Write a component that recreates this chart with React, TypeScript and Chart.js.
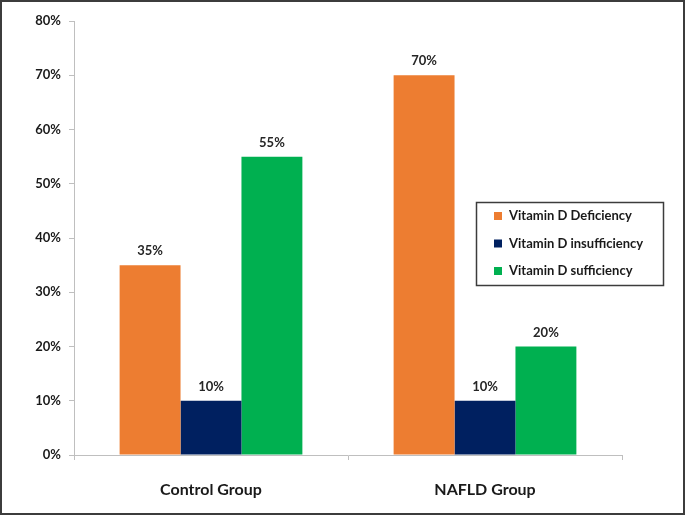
import React, { useEffect, useRef } from "react";
import { Chart, registerables } from "chart.js";

Chart.register(...registerables);

const categories = ["Control Group", "NAFLD Group"];
const seriesLabels = ["Vitamin D Deficiency", "Vitamin D insufficiency", "Vitamin D sufficiency"];
const deficiency = [35, 70];
const insufficiency = [10, 10];
const sufficiency = [55, 20];
const seriesColors = ["#ED7D31", "#002060", "#00B050"];
const yTicks = [0, 10, 20, 30, 40, 50, 60, 70, 80];

const FONT = "Lato, 'Open Sans', sans-serif";

const borderPlugin = {
  id: "outerBorder",
  afterDraw(chart: any) {
    const { ctx, width, height } = chart;
    ctx.save();
    ctx.strokeStyle = "#3c3c3c";
    ctx.lineWidth = 2;
    ctx.strokeRect(1, 1, width - 2, height - 2);
    ctx.restore();
  },
};

const dataLabelPlugin = {
  id: "dataLabels",
  afterDatasetsDraw(chart: any) {
    const { ctx } = chart;
    ctx.save();
    ctx.font = `bold 13px ${FONT}`;
    ctx.fillStyle = "#262626";
    ctx.textAlign = "center";
    ctx.textBaseline = "alphabetic";
    chart.data.datasets.forEach((ds: any, i: number) => {
      const meta = chart.getDatasetMeta(i);
      meta.data.forEach((el: any, j: number) => {
        ctx.fillText(`${ds.data[j]}%`, el.x, el.y - 10);
      });
    });
    ctx.restore();
  },
};

const boxLegendPlugin = {
  id: "boxLegend",
  afterDraw(chart: any) {
    const { ctx } = chart;
    const x0 = 476, y0 = 202, w = 187, h = 83;
    ctx.save();
    ctx.fillStyle = "#ffffff";
    ctx.fillRect(x0, y0, w, h);
    ctx.strokeStyle = "#3c3c3c";
    ctx.lineWidth = 1.5;
    ctx.strokeRect(x0 + 0.5, y0 + 0.5, w, h);
    ctx.font = `bold 13px ${FONT}`;
    ctx.textBaseline = "middle";
    ctx.textAlign = "left";
    chart.data.datasets.forEach((ds: any, i: number) => {
      const cy = 216 + i * 27.5;
      ctx.fillStyle = ds.backgroundColor;
      ctx.fillRect(494, cy - 4, 8, 8);
      ctx.fillStyle = "#1a1a1a";
      ctx.fillText(ds.label, 509, cy);
    });
    ctx.restore();
  },
};

export default function App() {
  const ref = useRef<HTMLCanvasElement>(null);
  useEffect(() => {
    if (!ref.current) return;
    const values = [deficiency, insufficiency, sufficiency];
    const chart = new Chart(ref.current, {
      type: "bar",
      data: {
        labels: categories,
        datasets: seriesLabels.map((label, i) => ({
          label,
          data: values[i],
          backgroundColor: seriesColors[i],
          barPercentage: 1,
          categoryPercentage: 0.667,
        })),
      },
      options: {
        animation: false,
        responsive: true,
        maintainAspectRatio: false,
        layout: { padding: { left: 0, top: 21, right: 63, bottom: 0 } },
        plugins: {
          legend: { display: false },
          tooltip: { enabled: false },
        },
        scales: {
          x: {
            grid: { offset: true, drawOnChartArea: false, drawTicks: true, tickLength: 5, color: "#BFBFBF" },
            border: { display: true, color: "#BFBFBF" },
            ticks: { color: "#1a1a1a", font: { family: FONT, size: 16, weight: "bold" }, padding: 20 },
            afterFit(scale: any) {
              scale.height = 60;
            },
          },
          y: {
            min: 0,
            max: 80,
            afterBuildTicks(scale: any) {
              scale.ticks = yTicks.map((v) => ({ value: v }));
            },
            grid: { drawOnChartArea: false, drawTicks: true, tickLength: 5, color: "#BFBFBF" },
            border: { display: true, color: "#BFBFBF" },
            ticks: {
              color: "#1a1a1a",
              font: { family: FONT, size: 13, weight: "bold" },
              padding: 8,
              callback: (v: any) => `${v}%`,
            },
            afterFit(scale: any) {
              scale.width = 74;
            },
          },
        },
      },
      plugins: [dataLabelPlugin, boxLegendPlugin, borderPlugin],
    });
    return () => chart.destroy();
  }, []);
  return (
    <div style={{ position: "fixed", left: 0, top: 0, width: 685, height: 515, background: "#fff" }}>
      <canvas ref={ref} />
    </div>
  );
}
